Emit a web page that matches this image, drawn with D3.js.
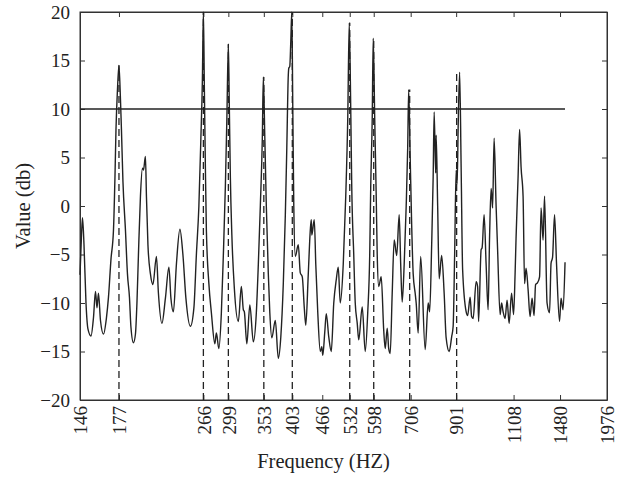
<!DOCTYPE html>
<html>
<head>
<meta charset="utf-8">
<script src="https://cdn.jsdelivr.net/npm/d3@7"></script>
<style>
  body { margin: 0; background: #fff; }
  svg text { font-family: "Liberation Serif", "DejaVu Serif", serif; }
  .axis path, .axis line { stroke: #333; }
  .axis text { fill: #222; font-size: 19px; }
  .label { fill: #222; font-size: 20.5px; }
</style>
</head>
<body>
<div id="chart"></div>
<script>
// spectrum: frequency bin index and level (db)
var bins = [0,3,5,8,12,16,22,27,31,34,37,41,47,53,57,62,67,70,72,75,78,81,83,86,91,95,99,102,107,111,114,117,121,125,127,131,133,136,141,146,153,157,164,171,178,182,187,193,200,206,212,221,228,233,238,242,245,247,249,251,253,258,263,270,273,278,283,287,291,294,297,299,301,304,309,317,323,327,329,334,340,347,353,357,361,365,367,370,373,377,380,384,391,397,402,407,411,414,417,418,420,422,424,426,428,431,437,441,445,449,452,457,461,463,464,469,472,476,481,484,486,490,493,498,503,508,513,517,521,527,532,536,539,542,544,548,551,555,558,565,571,576,580,582,585,587,590,593,595,598,603,608,611,615,618,621,625,629,634,639,642,645,649,653,656,658,661,664,667,671,673,677,682,691,697,700,704,707,709,712,713,716,719,724,729,733,739,744,747,750,753,755,757,760,763,766,773,776,781,784,787,793,796,798,803,805,809,813,817,820,823,825,826,829,833,836,841,844,847,851,855,859,864,868,871,873,877,880,883,887,890,893,897,901,905,909,912,916,920,923,927,930,935,940,943,946,950,954,960,963,967,971];
var levels = [-7.1,-3,-1.2,-4,-10,-12.7,-13.4,-11.5,-8.8,-10.5,-9.0,-11.8,-13.2,-11.5,-9.4,-5.5,-2.5,3,7.8,12,14.5,11,7.8,2.5,-2.5,-7,-9.4,-12.5,-14.1,-13.2,-10,-5,1,3.9,3.7,5.1,1,-4,-7,-8.1,-5.2,-9,-12.1,-9.5,-6.3,-9.5,-10.9,-6,-2.4,-5,-9.5,-12.4,-10.5,-5,0,7,13,20,12,4,-2.5,-8,-11,-14.2,-13.1,-14.7,-11,-5,2,9,16.7,10,3,-3,-8.5,-11.9,-8.3,-10.7,-10.9,-14.2,-10.2,-14.0,-11,-6,0,7,13.3,7,0,-7,-11,-13.6,-11.8,-15.7,-13.5,-8,-1,6,13.5,14.2,14.4,17,20,10,0,-5.2,-4.0,-6.9,-7.3,-10.5,-12.3,-7,-2.5,-1.4,-3.0,-1.4,-6,-11,-15.0,-14.5,-15.4,-13,-11.1,-13.5,-15.0,-10.0,-7.6,-6.3,-10.0,-6,1,9,18.9,10,2,-5,-10,-12.1,-13.8,-10.4,-15.0,-11,-5,2,9,17.3,9,1,-5,-8.3,-7.3,-12.8,-14.7,-12.6,-14.7,-15.2,-9,-3.5,-5.1,-0.9,-6,-9.9,-6,0,6,12.0,5,-2,-7,-9.0,-10.0,-13.1,-5.2,-14.8,-10.0,-10.9,-4,3,9.7,3.4,7.3,0,-7.5,-5.1,-9.0,-13.6,-15.0,-13.5,-12.4,-5,3.7,2.3,8,13.8,4,-6.6,-10.9,-11.3,-9.4,-11.4,-11.6,-7.8,-8.3,-11.9,-4.5,-4.3,-0.9,-6,-10.7,-3,1.8,0.5,-0.2,7.0,0,-4.5,-11.2,-10.0,-10.9,-11.6,-9.7,-12.1,-9.0,-11.2,-7,-3.2,3,7.9,4,1.0,-8.0,-6.4,-8.6,-11.4,-9.5,-11.3,-8.1,-7.9,-7.3,-0.2,-3.5,1.0,-10.0,-11.0,-5.9,-5.3,-0.9,-6,-11.9,-9.5,-10.7,-5.8];

// frequency tick labels and the bin where each one sits
var tickFreqs = [146,177,266,299,353,403,466,532,598,706,901,1108,1480,1976];
var tickBins  = [0,78,247,297,368,425,485,540,588,662,753,868,961,1055];

// detected notes (dashed markers) and their peak level
var noteBins  = [78,247,297,368,425,540,588,660,754];
var notePeaks = [14.5,20,16.7,13.3,20,18.9,17.3,12.0,13.8];

var threshold = 10;
var yTicks = [-20,-15,-10,-5,0,5,10,15,20];

var W = 624, H = 479;
var margin = {top: 12, right: 17, bottom: 79, left: 80},
    width = W - margin.left - margin.right,
    height = H - margin.top - margin.bottom;

var svg = d3.select("#chart").append("svg")
    .attr("width", W)
    .attr("height", H)
  .append("g")
    .attr("transform", "translate(" + margin.left + "," + margin.top + ")");

var x = d3.scaleLinear().domain([0, 1055]).range([0, width]);
var y = d3.scaleLinear().domain([-20, 20]).range([height, 0]);

var freqOf = {};
tickBins.forEach(function(b, i) { freqOf[b] = tickFreqs[i]; });

// axes, ticks pointing inward
var xAxis = d3.axisBottom(x).tickValues(tickBins).tickSizeInner(-5).tickSizeOuter(0)
    .tickFormat(function(d) { return freqOf[d]; });
var yAxis = d3.axisLeft(y).tickValues(yTicks).tickSizeInner(-5).tickSizeOuter(0).tickPadding(10);

svg.append("g")
    .attr("class", "x axis")
    .attr("transform", "translate(0," + height + ")")
    .call(xAxis)
  .selectAll("text")
    .attr("transform", "rotate(-90)")
    .attr("x", -6)
    .attr("y", 0)
    .attr("dy", "0.35em")
    .style("text-anchor", "end");

svg.append("g")
    .attr("class", "y axis")
    .call(yAxis);

// mirrored ticks on top and right
svg.append("g")
    .attr("class", "axis")
    .call(d3.axisTop(x).tickValues(tickBins).tickSizeInner(-5).tickSizeOuter(0).tickFormat(""));
svg.append("g")
    .attr("class", "axis")
    .attr("transform", "translate(" + width + ",0)")
    .call(d3.axisRight(y).tickValues(yTicks).tickSizeInner(-5).tickSizeOuter(0).tickFormat(""));

svg.append("rect")
    .attr("width", width)
    .attr("height", height)
    .attr("fill", "none")
    .attr("stroke", "#333");

// dashed note markers
svg.selectAll(".note")
    .data(noteBins).enter()
  .append("line")
    .attr("class", "note")
    .attr("x1", function(d) { return x(d); })
    .attr("x2", function(d) { return x(d); })
    .attr("y1", y(-20))
    .attr("y2", function(d, i) { return y(notePeaks[i]); })
    .attr("stroke", "#222")
    .attr("stroke-width", 1.3)
    .attr("stroke-dasharray", "7,4");

// threshold
svg.append("line")
    .attr("x1", x(bins[0]))
    .attr("x2", x(bins[bins.length - 1]))
    .attr("y1", y(threshold))
    .attr("y2", y(threshold))
    .attr("stroke", "#222")
    .attr("stroke-width", 1.3);

// spectrum curve
var data = bins.map(function(b, i) { return {bin: b, level: levels[i]}; });
var line = d3.line()
    .x(function(d) { return x(d.bin); })
    .y(function(d) { return y(d.level); })
    .curve(d3.curveMonotoneX);

svg.append("path")
    .datum(data)
    .attr("fill", "none")
    .attr("stroke", "#222")
    .attr("stroke-width", 1.4)
    .attr("d", line);

// labels
svg.append("text")
    .attr("class", "label")
    .attr("x", width / 2 - 20)
    .attr("y", height + 68)
    .style("text-anchor", "middle")
    .text("Frequency (HZ)");

svg.append("text")
    .attr("class", "label")
    .attr("transform", "rotate(-90)")
    .attr("x", -height / 2)
    .attr("y", -57)
    .attr("dy", "0.35em")
    .style("text-anchor", "middle")
    .text("Value (db)");
</script>
</body>
</html>
